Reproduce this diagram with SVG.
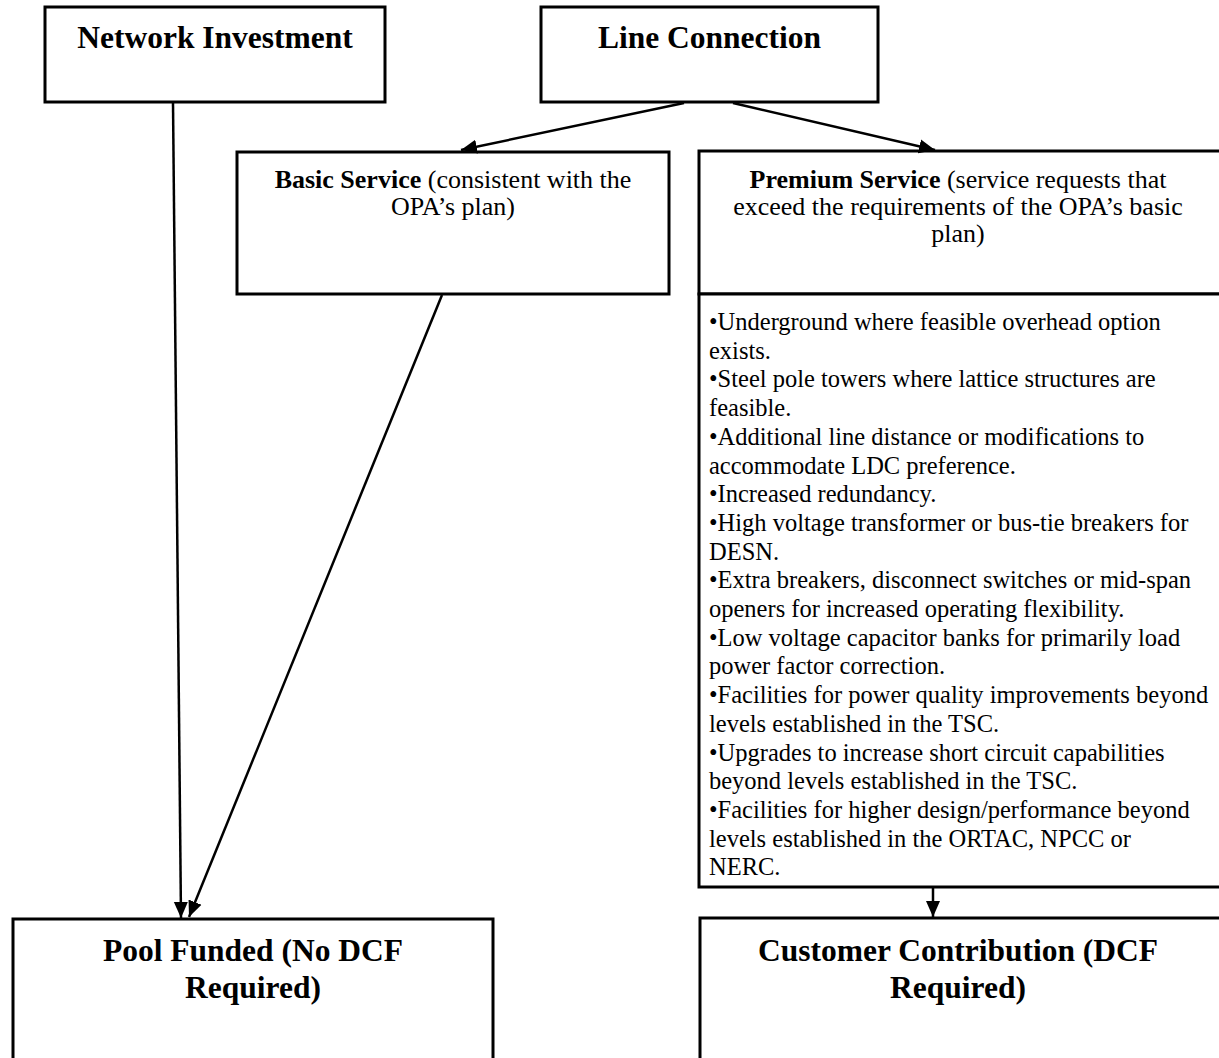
<svg xmlns="http://www.w3.org/2000/svg" width="1219" height="1058" viewBox="0 0 1219 1058">
<style>
.box{fill:#fff;stroke:#000;stroke-width:3}
.h{font-family:"Liberation Serif","Times New Roman",serif;font-weight:bold;font-size:31.5px;fill:#000;text-anchor:middle}
.t{font-family:"Liberation Serif","Times New Roman",serif;font-size:24.5px;fill:#000}
.hd{font-size:26px}
.c{text-anchor:middle}
.b{font-weight:bold}
.conn{stroke:#000;stroke-width:2.5;fill:none;marker-end:url(#ah)}
</style>
<defs>
<marker id="ah" markerUnits="userSpaceOnUse" markerWidth="18" markerHeight="16" refX="16" refY="8" orient="auto">
<path d="M0,1 L16,8 L0,15 Z" fill="#000"/>
</marker>
</defs>
<rect width="1219" height="1058" fill="#fff"/>
<g id="network-investment">
<rect class="box" x="45" y="7" width="340" height="95"/>
<text class="h" x="215" y="48">Network Investment</text>
</g>
<g id="line-connection">
<rect class="box" x="541" y="7" width="337" height="95"/>
<text class="h" x="709.5" y="48">Line Connection</text>
</g>
<g id="basic-service">
<rect class="box" x="237" y="152" width="432" height="142"/>
<text class="t hd c" x="453" y="188"><tspan class="b">Basic Service</tspan> (consistent with the</text>
<text class="t hd c" x="453" y="215">OPA’s plan)</text>
</g>
<g id="premium-service">
<rect class="box" x="699" y="151" width="523" height="143"/>
<text class="t hd c" x="958" y="188"><tspan class="b">Premium Service</tspan> (service requests that</text>
<text class="t hd c" x="958" y="215">exceed the requirements of the OPA’s basic</text>
<text class="t hd c" x="958" y="242">plan)</text>
</g>
<g id="premium-items">
<rect class="box" x="699" y="294" width="523" height="593"/>
<text class="t" x="709" y="330">•Underground where feasible overhead option</text>
<text class="t" x="709" y="358.7">exists.</text>
<text class="t" x="709" y="387.4">•Steel pole towers where lattice structures are</text>
<text class="t" x="709" y="416.1">feasible.</text>
<text class="t" x="709" y="444.8">•Additional line distance or modifications to</text>
<text class="t" x="709" y="473.5">accommodate LDC preference.</text>
<text class="t" x="709" y="502.2">•Increased redundancy.</text>
<text class="t" x="709" y="530.9">•High voltage transformer or bus-tie breakers for</text>
<text class="t" x="709" y="559.6">DESN.</text>
<text class="t" x="709" y="588.3">•Extra breakers, disconnect switches or mid-span</text>
<text class="t" x="709" y="617">openers for increased operating flexibility.</text>
<text class="t" x="709" y="645.7">•Low voltage capacitor banks for primarily load</text>
<text class="t" x="709" y="674.4">power factor correction.</text>
<text class="t" x="709" y="703.1">•Facilities for power quality improvements beyond</text>
<text class="t" x="709" y="731.8">levels established in the TSC.</text>
<text class="t" x="709" y="760.5">•Upgrades to increase short circuit capabilities</text>
<text class="t" x="709" y="789.2">beyond levels established in the TSC.</text>
<text class="t" x="709" y="817.9">•Facilities for higher design/performance beyond</text>
<text class="t" x="709" y="846.6">levels established in the ORTAC, NPCC or</text>
<text class="t" x="709" y="875.3">NERC.</text>
</g>
<g id="pool-funded">
<rect class="box" x="13" y="919" width="480" height="150"/>
<text class="h" x="253" y="961">Pool Funded (No DCF</text>
<text class="h" x="253" y="998">Required)</text>
</g>
<g id="customer-contribution">
<rect class="box" x="700" y="918" width="522" height="150"/>
<text class="h" x="958" y="961">Customer Contribution (DCF</text>
<text class="h" x="958" y="998">Required)</text>
</g>
<g id="connectors">
<line class="conn" x1="173" y1="103" x2="181" y2="918"/>
<line class="conn" x1="442" y1="295" x2="189" y2="917"/>
<line class="conn" x1="684" y1="103" x2="461" y2="150"/>
<line class="conn" x1="733" y1="103" x2="935" y2="150"/>
<line class="conn" x1="933" y1="888" x2="933" y2="917"/>
</g>
</svg>
